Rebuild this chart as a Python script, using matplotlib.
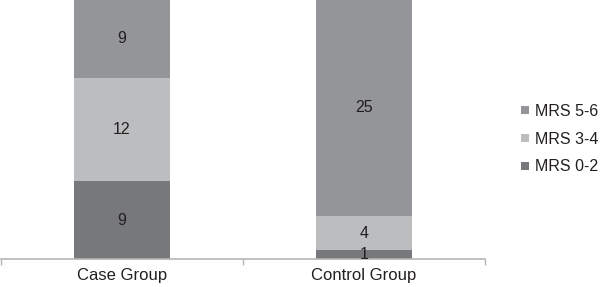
import matplotlib
matplotlib.use("Agg")
import matplotlib.pyplot as plt
from matplotlib.lines import Line2D

categories = ["Case Group", "Control Group"]
series_names = ["MRS 0-2", "MRS 3-4", "MRS 5-6"]
mrs_0_2 = [9, 1]
mrs_3_4 = [12, 4]
mrs_5_6 = [9, 25]
colors = ["#77787b", "#bcbdbf", "#949598"]

plt.rcParams["font.family"] = ["Liberation Sans", "DejaVu Sans"]

fig = plt.figure(figsize=(6, 2.87), dpi=100)
ax = fig.add_axes([1/600, 28/287, 484/600, 259/287])

x = list(range(len(categories)))
bottoms = [0, 0]
for name, vals, c in zip(series_names, [mrs_0_2, mrs_3_4, mrs_5_6], colors):
    ax.bar(x, vals, width=0.4, bottom=bottoms, color=c, linewidth=0)
    for xi, v, b in zip(x, vals, bottoms):
        ax.text(xi, b + v / 2, str(v), ha="center", va="center", fontsize=11.5, color="#231f20")
    bottoms = [b + v for b, v in zip(bottoms, vals)]

ax.set_xlim(-0.5, 1.5)
ax.set_ylim(0, 30)
for s in ["top", "right", "left"]:
    ax.spines[s].set_visible(False)
ax.spines["bottom"].set_color("#b5b5b5")
ax.spines["bottom"].set_linewidth(1.2)
ax.set_yticks([])
ax.set_xticks([-0.5, 0.5, 1.5], minor=False)
ax.set_xticklabels([])
ax.tick_params(axis="x", which="major", length=4, color="#b5b5b5", width=1)
for xi, cat in zip(x, categories):
    ax.text(xi, -0.033, cat, transform=ax.get_xaxis_transform(), ha="center", va="top",
            fontsize=12, color="#231f20")

handles = [Line2D([], [], marker="s", linestyle="none", markersize=6, color=c, markeredgewidth=0)
           for c in colors]
leg = fig.legend(handles[::-1], series_names[::-1], loc="center left",
                 bbox_to_anchor=(521/600, 1 - 139/287), frameon=False,
                 fontsize=11.5, handlelength=0.5, handletextpad=0.35, labelspacing=0.8,
                 borderaxespad=0, borderpad=0)
for t in leg.get_texts():
    t.set_color("#231f20")

fig.savefig("out.png", dpi=100)
